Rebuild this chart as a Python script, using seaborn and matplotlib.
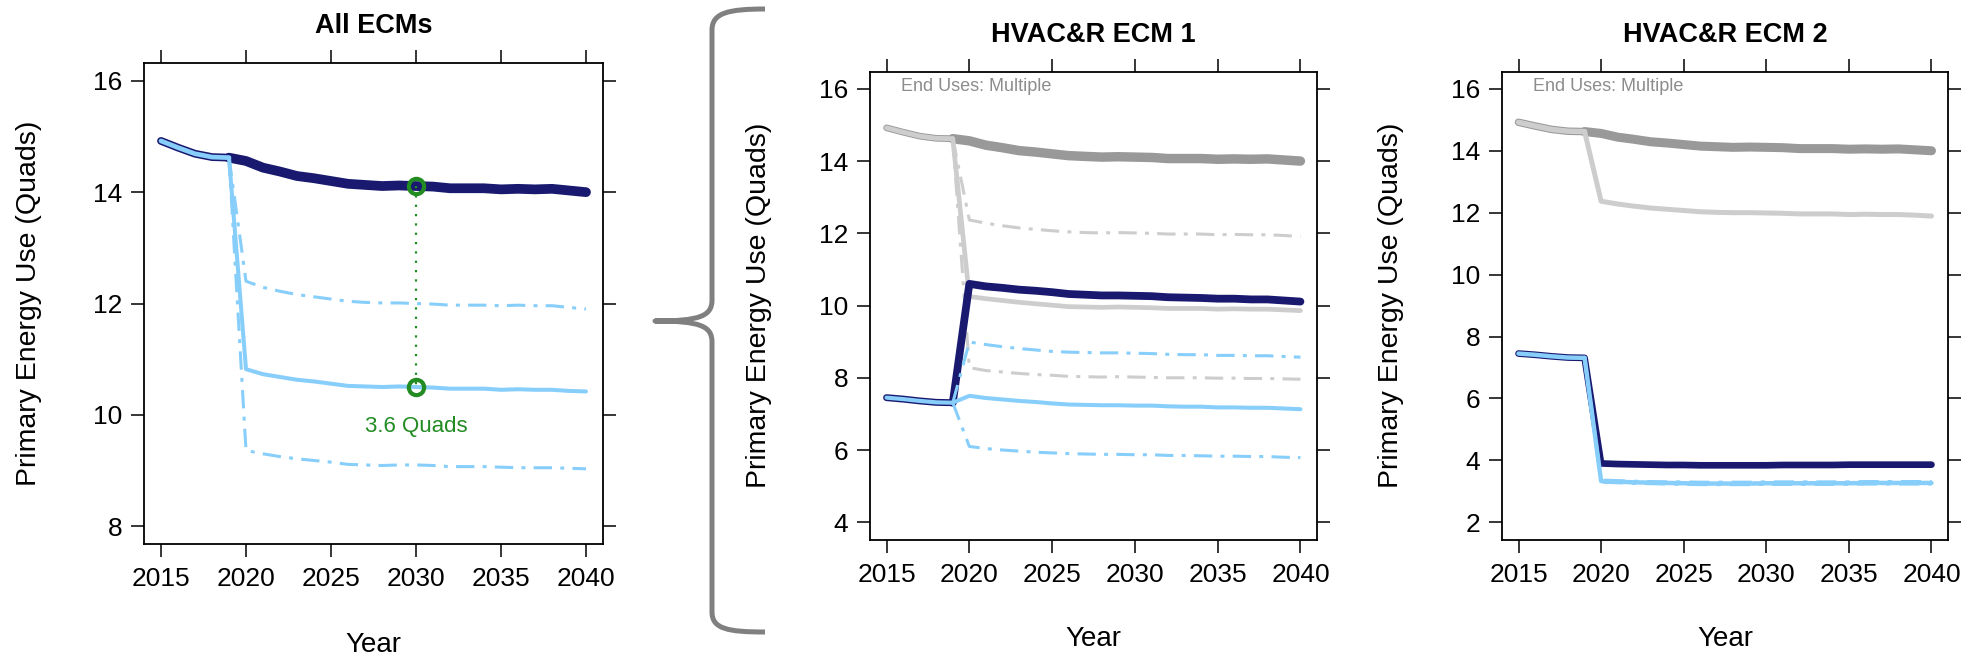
import matplotlib
matplotlib.use("Agg")
import matplotlib.pyplot as plt
import numpy as np
import pandas as pd
import seaborn as sns
from matplotlib.path import Path
from matplotlib.patches import PathPatch

# ---------------- data ----------------
years = list(range(2015, 2041))

# All ECMs baseline (also grey "total" line in the ECM panels)
base_all = [14.92, 14.80, 14.69, 14.63, 14.62, 14.56, 14.44, 14.37, 14.29, 14.25,
            14.20, 14.15, 14.13, 14.11, 14.12, 14.11, 14.10, 14.07, 14.07, 14.07,
            14.05, 14.06, 14.05, 14.06, 14.03, 14.00]
eff_all = [14.92, 14.80, 14.69, 14.63, 14.62, 10.82, 10.73, 10.68, 10.63, 10.60,
           10.56, 10.52, 10.51, 10.50, 10.51, 10.50, 10.49, 10.47, 10.47, 10.47,
           10.45, 10.46, 10.45, 10.45, 10.43, 10.42]
eff_all_hi = [14.92, 14.80, 14.69, 14.63, 14.62, 12.40, 12.29, 12.22, 12.16, 12.12,
              12.08, 12.04, 12.02, 12.01, 12.01, 12.00, 11.99, 11.97, 11.97, 11.97,
              11.96, 11.97, 11.96, 11.96, 11.93, 11.90]
eff_all_lo = [14.92, 14.80, 14.69, 14.63, 14.62, 9.36, 9.30, 9.25, 9.21, 9.18,
              9.15, 9.11, 9.10, 9.09, 9.10, 9.10, 9.09, 9.07, 9.07, 9.07,
              9.06, 9.05, 9.05, 9.05, 9.04, 9.03]

# HVAC&R ECM 1 panel
ecm1_tot_eff = [14.92, 14.80, 14.69, 14.63, 14.62, 10.25, 10.19, 10.14, 10.09, 10.05,
                10.01, 9.97, 9.96, 9.95, 9.96, 9.95, 9.94, 9.92, 9.92, 9.92,
                9.90, 9.91, 9.90, 9.90, 9.88, 9.86]
ecm1_tot_hi = [14.92, 14.80, 14.69, 14.63, 14.62, 12.37, 12.28, 12.21, 12.15, 12.11,
               12.07, 12.04, 12.02, 12.01, 12.02, 12.01, 12.00, 11.98, 11.98, 11.98,
               11.96, 11.97, 11.96, 11.96, 11.94, 11.91]
ecm1_tot_lo = [14.92, 14.80, 14.69, 14.63, 14.62, 8.28, 8.20, 8.16, 8.12, 8.09,
               8.07, 8.04, 8.03, 8.02, 8.03, 8.02, 8.01, 8.00, 8.00, 8.00,
               7.99, 7.99, 7.98, 7.98, 7.97, 7.96]
ecm1_base = [7.45, 7.41, 7.36, 7.32, 7.31, 10.60, 10.53, 10.49, 10.44, 10.41,
             10.37, 10.32, 10.30, 10.28, 10.28, 10.27, 10.26, 10.23, 10.22, 10.21,
             10.19, 10.19, 10.17, 10.17, 10.14, 10.11]
ecm1_eff = [7.45, 7.41, 7.36, 7.32, 7.31, 7.50, 7.44, 7.40, 7.36, 7.33,
            7.29, 7.26, 7.25, 7.24, 7.24, 7.23, 7.23, 7.21, 7.20, 7.20,
            7.18, 7.18, 7.17, 7.17, 7.15, 7.13]
ecm1_hi = [7.45, 7.41, 7.36, 7.32, 7.31, 8.99, 8.92, 8.86, 8.81, 8.77,
           8.73, 8.71, 8.70, 8.69, 8.69, 8.68, 8.67, 8.65, 8.64, 8.64,
           8.62, 8.62, 8.61, 8.61, 8.59, 8.57]
ecm1_lo = [7.45, 7.41, 7.36, 7.32, 7.31, 6.10, 6.04, 6.00, 5.97, 5.94,
           5.92, 5.90, 5.89, 5.88, 5.88, 5.87, 5.87, 5.85, 5.85, 5.84,
           5.83, 5.83, 5.82, 5.82, 5.80, 5.79]

# HVAC&R ECM 2 panel
ecm2_tot_eff = [14.92, 14.80, 14.69, 14.63, 14.62, 12.37, 12.28, 12.21, 12.15, 12.11,
                12.07, 12.03, 12.01, 12.00, 12.00, 11.99, 11.98, 11.96, 11.96, 11.96,
                11.94, 11.95, 11.94, 11.94, 11.92, 11.89]
ecm2_base = [7.45, 7.41, 7.36, 7.32, 7.31, 3.90, 3.88, 3.87, 3.86, 3.85,
             3.85, 3.84, 3.84, 3.84, 3.84, 3.84, 3.85, 3.85, 3.85, 3.85,
             3.86, 3.86, 3.86, 3.86, 3.86, 3.86]
ecm2_eff = [7.45, 7.41, 7.36, 7.32, 7.31, 3.33, 3.31, 3.29, 3.28, 3.27,
            3.26, 3.25, 3.25, 3.25, 3.25, 3.26, 3.26, 3.26, 3.26, 3.26,
            3.26, 3.27, 3.27, 3.27, 3.27, 3.27]
ecm2_hi = [7.45, 7.41, 7.36, 7.32, 7.31, 3.36, 3.34, 3.32, 3.31, 3.30,
           3.30, 3.29, 3.29, 3.29, 3.29, 3.30, 3.30, 3.30, 3.30, 3.30,
           3.30, 3.31, 3.31, 3.31, 3.31, 3.31]
ecm2_lo = [7.45, 7.41, 7.36, 7.32, 7.31, 3.30, 3.28, 3.26, 3.25, 3.24,
           3.23, 3.22, 3.22, 3.22, 3.22, 3.23, 3.23, 3.23, 3.23, 3.23,
           3.23, 3.24, 3.24, 3.24, 3.24, 3.24]

titles = ["All ECMs", "HVAC&R ECM 1", "HVAC&R ECM 2"]
y_ticks = [[8, 10, 12, 14, 16], [4, 6, 8, 10, 12, 14, 16], [2, 4, 6, 8, 10, 12, 14, 16]]
x_ticks = [2015, 2020, 2025, 2030, 2035, 2040]
mark_year = 2030
diff_label = "3.6 Quads"
end_use_label = "End Uses: Multiple"

# ---------------- style ----------------
NAVY = "#191970"
LBLUE = "#87CEFA"
DGRAY = "#999999"
LGRAY = "#CDCDCD"
GREEN = "#228B22"
TGRAY = "#8C8C8C"
DASHDOT = (0, (6, 2.7, 1.3, 2.7))

sns.set_theme(style="ticks")
plt.rcParams['font.family'] = ['Liberation Sans', 'DejaVu Sans']
plt.rcParams.update({
    "text.color": "black", "axes.labelcolor": "black",
    "xtick.color": "black", "ytick.color": "black",
    "axes.edgecolor": "black",
})

W, H = 1982, 664
fig = plt.figure(figsize=(W / 100, H / 100), dpi=100)


def draw(ax, vals, color, lw, ls="-", start=None, end=None, z=2):
    df = pd.DataFrame({"Year": years, "Value": vals})
    if start is not None:
        df = df[df["Year"] >= start]
    if end is not None:
        df = df[df["Year"] <= end]
    kw = dict(solid_capstyle="round", solid_joinstyle="round") if ls == "-" else dict(dash_capstyle="butt")
    sns.lineplot(data=df, x="Year", y="Value", ax=ax, color=color, linewidth=lw,
                 linestyle=ls, estimator=None, sort=False, legend=False, zorder=z, **kw)


def style_axes(ax, title, yt, ylim, title_off, lab_x, lab_y):
    ax.set_xlim(2014, 2041)
    ax.set_ylim(*ylim)
    ax.set_xticks(x_ticks)
    ax.set_yticks(yt)
    ax.tick_params(axis="both", which="both", direction="out", length=9.5, width=1.1,
                   top=True, right=True, bottom=True, left=True,
                   labeltop=False, labelright=False, labelsize=19)
    ax.tick_params(axis="x", pad=7)
    ax.tick_params(axis="y", pad=6)
    for s in ax.spines.values():
        s.set_visible(True)
        s.set_linewidth(1.3)
        s.set_color("black")
    ax.set_xlabel("Year", fontsize=20)
    ax.set_ylabel("Primary Energy Use (Quads)", fontsize=20.5)
    ax.xaxis.set_label_coords(0.5, lab_y)
    ax.yaxis.set_label_coords(lab_x, 0.5)
    ax.text(0.5, 1 + title_off, title, transform=ax.transAxes, ha="center",
            va="baseline", fontsize=19.5, fontweight="bold")


# ---------------- panel 1 ----------------
ax1 = fig.add_axes([144 / W, (H - 544) / H, 459 / W, 481 / H])
draw(ax1, base_all, NAVY, 5.6, end=2019, z=2)
draw(ax1, base_all, NAVY, 7.0, start=2019, z=2)
draw(ax1, eff_all_hi, LBLUE, 2.2, DASHDOT, start=2019, z=3)
draw(ax1, eff_all_lo, LBLUE, 2.2, DASHDOT, start=2019, z=3)
draw(ax1, eff_all, LBLUE, 2.9, start=2019, z=4)
draw(ax1, eff_all, LBLUE, 3.4, end=2019, z=4)
i = years.index(mark_year)
mk = pd.DataFrame({"Year": [mark_year, mark_year], "Value": [base_all[i], eff_all[i]]})
sns.lineplot(data=mk, x="Year", y="Value", ax=ax1, color=GREEN, linewidth=1.6,
             linestyle=(0, (1, 3.2)), estimator=None, sort=False, legend=False, zorder=5)
sns.lineplot(data=mk, x="Year", y="Value", ax=ax1, color=GREEN, linewidth=0,
             marker="o", markersize=11, markerfacecolor="none", markeredgecolor=GREEN,
             markeredgewidth=3.0, estimator=None, sort=False, legend=False, zorder=6)
ax1.text(mark_year, eff_all[i] - 0.71, diff_label, color=GREEN, fontsize=16,
         ha="center", va="center")
style_axes(ax1, titles[0], y_ticks[0], (7.68, 16.32), 30 / 481, -0.222, -0.183)

# ---------------- panel 2 ----------------
ax2 = fig.add_axes([870 / W, (H - 539.6) / H, 447 / W, 468.1 / H])
draw(ax2, base_all, DGRAY, 4.8, end=2019, z=2)
draw(ax2, base_all, DGRAY, 6.8, start=2019, z=2)
draw(ax2, ecm1_tot_hi, LGRAY, 2.2, DASHDOT, start=2019, z=2.5)
draw(ax2, ecm1_tot_lo, LGRAY, 2.2, DASHDOT, start=2019, z=2.5)
draw(ax2, ecm1_tot_eff, LGRAY, 3.4, start=2019, z=2.6)
draw(ax2, ecm1_tot_eff, LGRAY, 3.5, end=2019, z=2.6)
draw(ax2, ecm1_base, NAVY, 5.0, end=2019, z=3)
draw(ax2, ecm1_base, NAVY, 5.6, start=2019, z=3)
draw(ax2, ecm1_hi, LBLUE, 2.2, DASHDOT, start=2019, z=3.5)
draw(ax2, ecm1_lo, LBLUE, 2.2, DASHDOT, start=2019, z=3.5)
draw(ax2, ecm1_eff, LBLUE, 2.9, start=2019, z=4)
draw(ax2, ecm1_eff, LBLUE, 3.0, end=2019, z=4)
ax2.text(0.069, 0.967, end_use_label, transform=ax2.transAxes, color=TGRAY,
         fontsize=13, ha="left", va="center")
style_axes(ax2, titles[1], y_ticks[1], (3.52, 16.48), 29.5 / 468, -0.219, -0.185)

# ---------------- panel 3 ----------------
ax3 = fig.add_axes([1502 / W, (H - 539.6) / H, 446 / W, 468.1 / H])
draw(ax3, base_all, DGRAY, 5.4, end=2019, z=2)
draw(ax3, base_all, DGRAY, 6.5, start=2019, z=2)
draw(ax3, ecm2_tot_eff, LGRAY, 3.6, start=2019, z=2.6)
draw(ax3, ecm2_tot_eff, LGRAY, 3.9, end=2019, z=2.6)
draw(ax3, ecm2_base, NAVY, 4.8, z=3)
draw(ax3, ecm2_hi, LBLUE, 2.4, DASHDOT, start=2019, z=3.5)
draw(ax3, ecm2_lo, LBLUE, 2.4, DASHDOT, start=2019, z=3.5)
draw(ax3, ecm2_eff, LBLUE, 3.2, start=2019, z=4)
draw(ax3, ecm2_eff, LBLUE, 3.2, end=2019, z=4)
ax3.text(0.069, 0.967, end_use_label, transform=ax3.transAxes, color=TGRAY,
         fontsize=13, ha="left", va="center")
style_axes(ax3, titles[2], y_ticks[2], (1.44, 16.56), 29.5 / 468, -0.22, -0.185)

# ---------------- brace ----------------
bax = fig.add_axes([0, 0, 1, 1], zorder=-1)
bax.set_xlim(0, W)
bax.set_ylim(H, 0)
bax.axis("off")
verts = [
    (765, 9), (728, 9), (712, 13), (712, 30),
    (712, 300),
    (712, 316), (700, 321), (655, 321),
    (700, 321), (712, 326), (712, 342),
    (712, 612),
    (712, 629), (728, 632), (765, 632),
]
codes = [Path.MOVETO, Path.CURVE4, Path.CURVE4, Path.CURVE4,
         Path.LINETO,
         Path.CURVE4, Path.CURVE4, Path.CURVE4,
         Path.CURVE4, Path.CURVE4, Path.CURVE4,
         Path.LINETO,
         Path.CURVE4, Path.CURVE4, Path.CURVE4]
bax.add_patch(PathPatch(Path(verts, codes), facecolor="none", edgecolor="#808080",
                        linewidth=3.6, capstyle="butt", joinstyle="round"))

fig.savefig("out.png", dpi=100)
